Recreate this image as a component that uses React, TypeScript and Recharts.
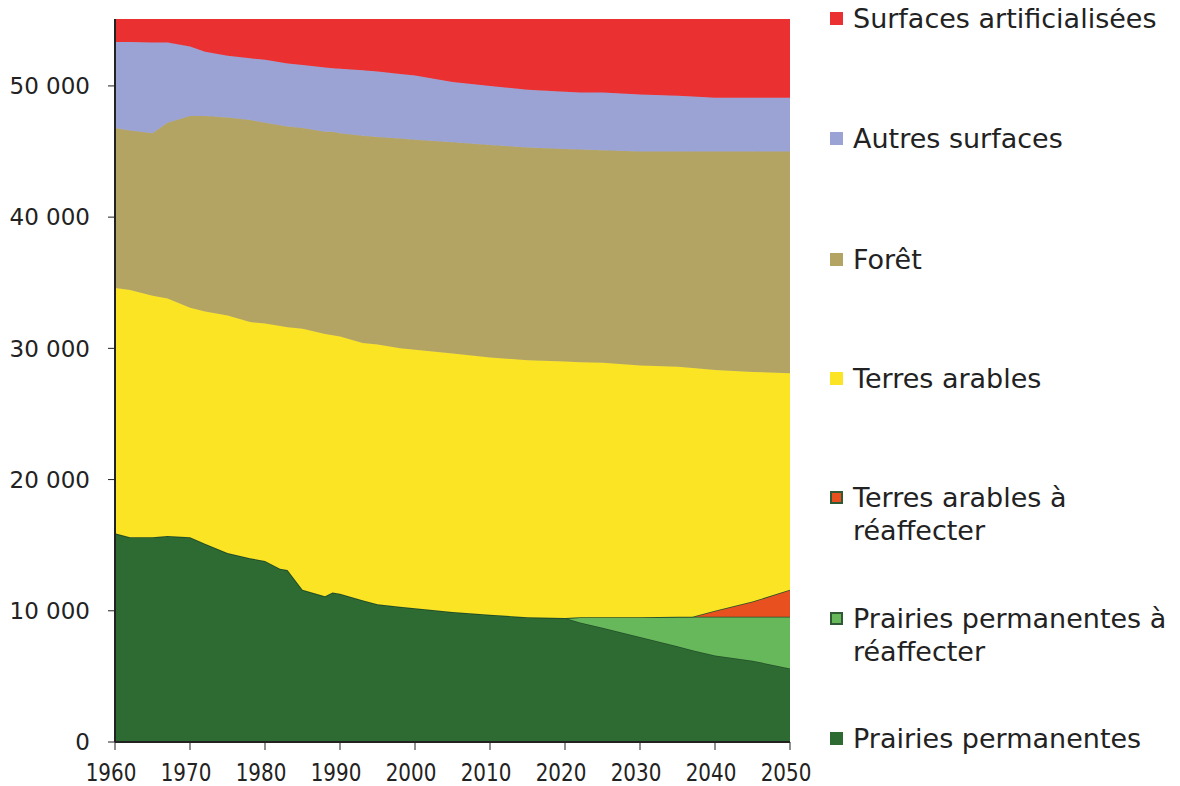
import React from 'react';
import { AreaChart, Area, XAxis, YAxis, Legend } from 'recharts';

const years = [1960, 1962, 1965, 1967, 1970, 1972, 1975, 1978, 1980, 1982, 1983, 1985, 1988, 1989, 1990, 1993, 1995, 1998, 2000, 2005, 2010, 2015, 2020, 2022, 2025, 2030, 2035, 2037, 2040, 2045, 2050];

const prairiesPermanentes = [15900, 15600, 15600, 15700, 15600, 15100, 14400, 14000, 13800, 13200, 13100, 11600, 11100, 11400, 11300, 10800, 10500, 10300, 10200, 9900, 9700, 9500, 9450, 9100, 8700, 8000, 7300, 7000, 6600, 6200, 5600];
const prairiesAReaffecter = [0, 0, 0, 0, 0, 0, 0, 0, 0, 0, 0, 0, 0, 0, 0, 0, 0, 0, 0, 0, 0, 0, 0, 400, 800, 1500, 2250, 2550, 2950, 3350, 3950];
const terresAReaffecter = [0, 0, 0, 0, 0, 0, 0, 0, 0, 0, 0, 0, 0, 0, 0, 0, 0, 0, 0, 0, 0, 0, 0, 0, 0, 0, 0, 0, 450, 1150, 2050];
const terresArables = [18700, 18850, 18400, 18100, 17500, 17700, 18100, 18000, 18100, 18500, 18500, 19900, 20000, 19600, 19600, 19600, 19800, 19700, 19700, 19700, 19600, 19600, 19550, 19450, 19400, 19200, 19050, 18950, 18350, 17500, 16500];
const foret = [12200, 12150, 12400, 13400, 14600, 14900, 15100, 15400, 15300, 15300, 15300, 15300, 15400, 15500, 15500, 15800, 15800, 16000, 16000, 16100, 16200, 16200, 16200, 16200, 16200, 16300, 16400, 16500, 16650, 16800, 16900];
const autresSurfaces = [6550, 6750, 6900, 6100, 5300, 4900, 4700, 4700, 4800, 4800, 4800, 4800, 4900, 4850, 4900, 5000, 5000, 4900, 4900, 4600, 4500, 4400, 4350, 4350, 4400, 4350, 4250, 4200, 4100, 4100, 4100];
const surfacesArtificialisees = [1750, 1750, 1800, 1800, 2100, 2500, 2800, 3000, 3100, 3300, 3400, 3500, 3700, 3750, 3800, 3900, 4000, 4200, 4300, 4800, 5100, 5400, 5550, 5600, 5600, 5750, 5850, 5900, 6000, 6000, 6000];

const xTicks = [1960, 1970, 1980, 1990, 2000, 2010, 2020, 2030, 2040, 2050];
const yTicks = [0, 10000, 20000, 30000, 40000, 50000];

const seriesKeys = ['prairies', 'prairiesR', 'terresR', 'terres', 'foret', 'autres', 'artif'];
const seriesNames = [
  'Prairies permanentes',
  'Prairies permanentes à réaffecter',
  'Terres arables à réaffecter',
  'Terres arables',
  'Forêt',
  'Autres surfaces',
  'Surfaces artificialisées',
];
const seriesColors = ['#2E6B33', '#66B85A', '#E8501F', '#FBE424', '#B4A463', '#9BA3D4', '#EA3030'];

const data = years.map((year, i) => ({
  year,
  prairies: prairiesPermanentes[i],
  prairiesR: prairiesAReaffecter[i],
  terresR: terresAReaffecter[i],
  terres: terresArables[i],
  foret: foret[i],
  autres: autresSurfaces[i],
  artif: surfacesArtificialisees[i],
}));

const fmt = (n: number) => String(n).replace(/\B(?=(\d{3})+(?!\d))/g, ' ');

const legendLayout = [
  { idx: 6, top: 10, lines: ['Surfaces artificialisées'] },
  { idx: 5, top: 130, lines: ['Autres surfaces'] },
  { idx: 4, top: 251, lines: ['Forêt'] },
  { idx: 3, top: 370, lines: ['Terres arables'] },
  { idx: 2, top: 489, lines: ['Terres arables à', 'réaffecter'] },
  { idx: 1, top: 610, lines: ['Prairies permanentes à', 'réaffecter'] },
  { idx: 0, top: 730, lines: ['Prairies permanentes'] },
];

const LegendBox = () => (
  <div style={{ position: 'relative', width: 349, height: 770, fontFamily: 'DejaVu Sans, Verdana, sans-serif', color: '#222' }}>
    {legendLayout.map((it) => {
      const bordered = it.idx === 1 || it.idx === 2;
      return (
        <div key={it.idx} style={{ position: 'absolute', left: 0, top: it.top - 16, width: 349 }}>
          <div
            style={{
              position: 'absolute',
              left: 7,
              top: 10,
              width: bordered ? 9 : 13,
              height: bordered ? 9 : 13,
              background: seriesColors[it.idx],
              border: bordered ? '2px solid #2E5A36' : 'none',
            }}
          />
          <div style={{ position: 'absolute', left: 30, top: 0, fontSize: 27, lineHeight: '33px', whiteSpace: 'nowrap' }}>
            {it.lines.map((l, k) => (
              <div key={k}>{l}</div>
            ))}
          </div>
        </div>
      );
    })}
  </div>
);

const XTick = (props: any) => {
  const { x, y, payload } = props;
  return (
    <g transform={`translate(${x - 4},${y})`}>
      <text x={0} y={0} dy={19} textAnchor="middle" fontSize={24} fill="#222" fontFamily="DejaVu Sans" transform="scale(0.83,1)">
        {payload.value}
      </text>
    </g>
  );
};

export default function App() {
  return (
    <div>
      <style>{'html,body{overflow:hidden}'}</style>
      <AreaChart width={1164} height={778} data={data} margin={{ top: 11, right: 382, bottom: 0, left: 0 }}>
        <XAxis
          dataKey="year"
          type="number"
          domain={[1960, 2050]}
          ticks={xTicks}
          allowDataOverflow
          height={44}
          tickSize={8}
          tickMargin={12}
          stroke="#222"
          tick={<XTick />}
          tickLine={{ stroke: '#222' }}
          axisLine={{ stroke: '#222', strokeWidth: 2 }}
        />
        <YAxis
          type="number"
          domain={[0, 55100]}
          ticks={yTicks}
          allowDataOverflow
          width={107}
          tickSize={7}
          tickMargin={18}
          tickFormatter={fmt}
          tick={{ fontSize: 23, fill: '#222', fontFamily: 'DejaVu Sans' }}
          tickLine={{ stroke: '#222' }}
          axisLine={{ stroke: '#222', strokeWidth: 2 }}
        />
        <Legend
          layout="vertical"
          align="right"
          verticalAlign="top"
          content={() => <LegendBox />}
          wrapperStyle={{ position: 'absolute', left: 815, top: 0, width: 0, height: 0, overflow: 'visible' }}
        />
        {seriesKeys.map((k, i) => (
          <Area
            key={k}
            type="linear"
            dataKey={k}
            name={seriesNames[i]}
            stackId="1"
            fill={seriesColors[i]}
            fillOpacity={1}
            stroke={i <= 2 ? '#24502A' : seriesColors[i]}
            strokeWidth={i <= 2 ? 1.5 : 1}
            isAnimationActive={false}
            dot={false}
            activeDot={false}
          />
        ))}
      </AreaChart>
    </div>
  );
}
